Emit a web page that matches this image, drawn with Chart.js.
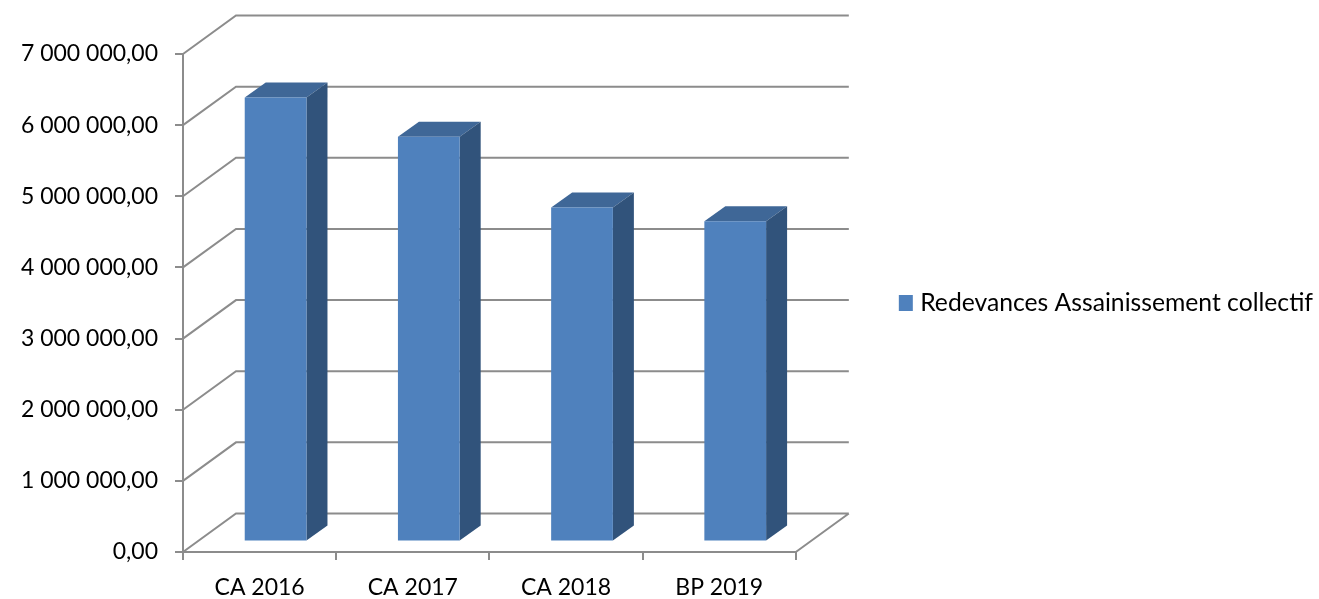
<!DOCTYPE html>
<html>
<head>
<meta charset="utf-8">
<title>Redevances Assainissement collectif</title>
<script src="https://cdn.jsdelivr.net/npm/chart.js@4/dist/chart.umd.min.js"></script>
<style>
    html, body { margin: 0; padding: 0; background: #fff; }
    #wrap { width: 1319px; height: 599px; }
</style>
</head>
<body>
<div id="wrap"><canvas id="chart" width="1319" height="599"></canvas></div>
<script>
const categories = ['CA 2016', 'CA 2017', 'CA 2018', 'BP 2019'];
const seriesName = 'Redevances Assainissement collectif';
const seriesValues = [6240000, 5690000, 4695000, 4500000];
const yMax = 7000000;
const yStep = 1000000;

const gridColor = '#8c8c8c';
const frontColor = '#4f81bd';
const topColor = '#3f6797';
const sideColor = '#31537b';

// the fake 3D: how far the back wall and the bars are pushed away from the axes
const wallDepth = { x: 53, y: -38.5 };
const barShift = { x: 16, y: -10.5 };
const barDepth = { x: 21, y: -15 };

function formatValue(value) {
    return value.toString().replace(/\B(?=(\d{3})+$)/g, ' ') + ',00';
}

const wall3d = {
    id: 'wall3d',
    beforeDatasetsDraw(chart) {
        const ctx = chart.ctx;
        const yScale = chart.scales.y;
        const area = chart.chartArea;

        ctx.save();
        ctx.strokeStyle = gridColor;
        ctx.lineWidth = 2;
        ctx.beginPath();
        yScale.ticks.forEach(tick => {
            const y = yScale.getPixelForValue(tick.value);
            ctx.moveTo(area.left, y);
            ctx.lineTo(area.left + wallDepth.x, y + wallDepth.y);
            ctx.lineTo(area.right + wallDepth.x, y + wallDepth.y);
        });
        ctx.moveTo(area.right, area.bottom);
        ctx.lineTo(area.right + wallDepth.x, area.bottom + wallDepth.y);
        ctx.stroke();
        ctx.restore();

        // bars stay translated until afterDatasetsDraw
        ctx.save();
        ctx.translate(barShift.x, barShift.y);
        chart.getDatasetMeta(0).data.forEach(bar => {
            const left = bar.x - bar.width / 2;
            const right = bar.x + bar.width / 2;

            ctx.fillStyle = topColor;
            ctx.beginPath();
            ctx.moveTo(left, bar.y);
            ctx.lineTo(left + barDepth.x, bar.y + barDepth.y);
            ctx.lineTo(right + barDepth.x, bar.y + barDepth.y);
            ctx.lineTo(right, bar.y);
            ctx.closePath();
            ctx.fill();

            ctx.fillStyle = sideColor;
            ctx.beginPath();
            ctx.moveTo(right, bar.y);
            ctx.lineTo(right + barDepth.x, bar.y + barDepth.y);
            ctx.lineTo(right + barDepth.x, bar.base + barDepth.y);
            ctx.lineTo(right, bar.base);
            ctx.closePath();
            ctx.fill();
        });
    },
    afterDatasetsDraw(chart) {
        chart.ctx.restore();
    }
};

new Chart(document.getElementById('chart').getContext('2d'), {
    type: 'bar',
    data: {
        labels: categories,
        datasets: [{
            label: seriesName,
            data: seriesValues,
            backgroundColor: frontColor,
            borderWidth: 0,
            categoryPercentage: 1,
            barPercentage: 0.403,
            clip: false
        }]
    },
    options: {
        responsive: false,
        animation: false,
        layout: { padding: { top: 54, right: -4, bottom: 0, left: 0 } },
        font: { family: 'Lato' },
        scales: {
            x: {
                grid: { drawOnChartArea: false, color: gridColor, lineWidth: 2, tickLength: 8 },
                border: { color: gridColor, width: 2 },
                ticks: { color: '#000', padding: 14, maxRotation: 0, font: { family: 'Lato', size: 23 } },
                afterFit(scale) { scale.height = 47; }
            },
            y: {
                min: 0,
                max: yMax,
                grid: { drawOnChartArea: false, color: gridColor, lineWidth: 2, tickLength: 8 },
                border: { color: gridColor, width: 2 },
                ticks: {
                    stepSize: yStep,
                    color: '#000',
                    padding: 17,
                    font: { family: 'Lato', size: 23 },
                    callback: value => formatValue(value)
                },
                afterFit(scale) { scale.width = 183; }
            },
            // empty axis, only keeps the legend away from the plot
            gap: {
                position: 'right',
                min: 0,
                max: 1,
                grid: { display: false },
                border: { display: false },
                ticks: { display: false },
                afterFit(scale) { scale.width = 103; }
            }
        },
        plugins: {
            tooltip: { enabled: false },
            legend: {
                position: 'right',
                fullSize: false,
                maxWidth: 520,
                labels: {
                    usePointStyle: true,
                    pointStyle: 'rect',
                    boxWidth: 6,
                    boxHeight: 16,
                    padding: 3,
                    color: '#000',
                    font: { family: 'Lato', size: 24.7 }
                }
            }
        }
    },
    plugins: [wall3d]
});
</script>
</body>
</html>
